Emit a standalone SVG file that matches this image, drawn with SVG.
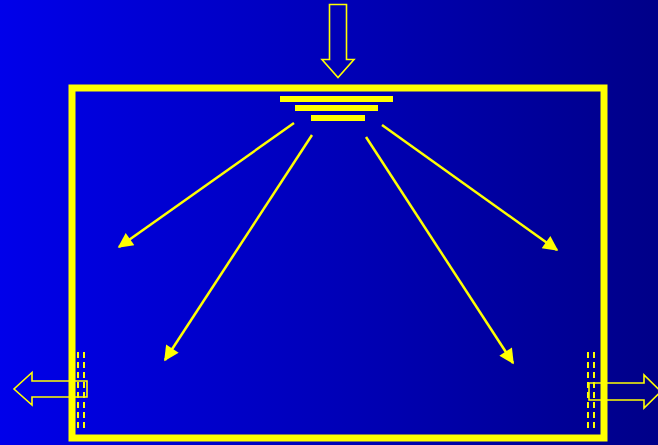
<svg xmlns="http://www.w3.org/2000/svg" width="658" height="445" viewBox="0 0 658 445">
<defs>
<linearGradient id="bg" x1="0" y1="0" x2="1" y2="0">
<stop offset="0" stop-color="#0000EA"/>
<stop offset="1" stop-color="#000088"/>
</linearGradient>
<marker id="ah" viewBox="0 0 10 10" refX="9" refY="5" markerWidth="7" markerHeight="6" markerUnits="strokeWidth" orient="auto">
<path d="M0,0 L10,5 L0,10 z" fill="#FFFF00"/>
</marker>
<style>
.ol{fill:none;stroke:#FFFF00;stroke-width:1.6;stroke-linejoin:miter}
.ray{fill:none;stroke:#FFFF00;stroke-width:2.5;marker-end:url(#ah)}
.dash{fill:none;stroke:#FFFF00;stroke-width:2;stroke-dasharray:6 4}
.bar{fill:#FFFF00}
</style>
</defs>
<rect x="0" y="0" width="658" height="445" fill="url(#bg)"/>
<g id="room">
<rect x="72" y="88" width="532" height="350" fill="none" stroke="#FFFF00" stroke-width="7"/>
</g>
<g id="inlet-arrow">
<path class="ol" d="M329.5,4.5 L346.5,4.5 L346.5,59.5 L354,59.5 L338,77.5 L322,59.5 L329.5,59.5 Z"/>
</g>
<g id="diffuser">
<rect class="bar" x="280" y="96" width="113" height="6"/>
<rect class="bar" x="295" y="105" width="83" height="6"/>
<rect class="bar" x="311" y="115" width="54" height="6"/>
</g>
<g id="left-vent">
<line class="dash" x1="78" y1="352" x2="78" y2="428"/>
<line class="dash" x1="84" y1="352" x2="84" y2="428"/>
<path class="ol" d="M87,381 L32,381 L32,372.5 L14,389 L32,405 L32,397 L87,397 Z"/>
</g>
<g id="right-vent">
<line class="dash" x1="588" y1="352" x2="588" y2="428"/>
<line class="dash" x1="594" y1="352" x2="594" y2="428"/>
<path class="ol" d="M589,383 L644,383 L644,375 L661,391.5 L644,408 L644,400 L589,400 Z"/>
</g>
<g id="connectors">
<line class="ray" x1="294" y1="123" x2="119" y2="247"/>
<line class="ray" x1="312" y1="135" x2="165" y2="360"/>
<line class="ray" x1="366" y1="137" x2="513" y2="363"/>
<line class="ray" x1="382" y1="125" x2="557" y2="250"/>
</g>
</svg>
